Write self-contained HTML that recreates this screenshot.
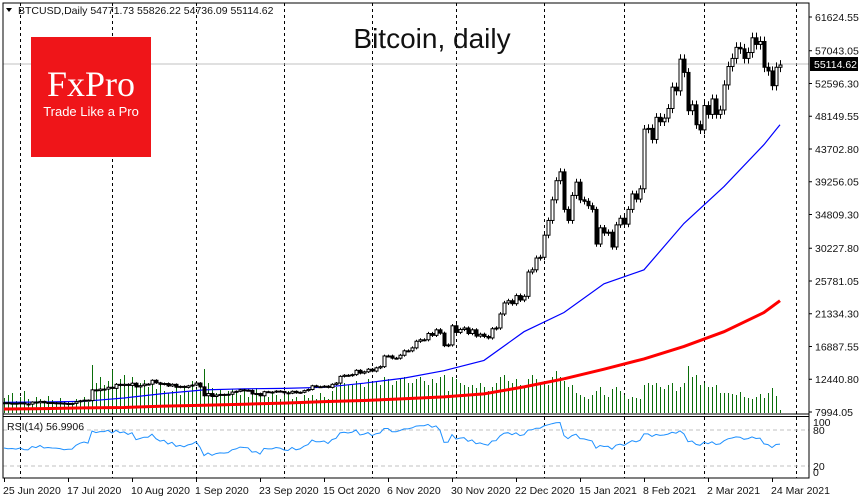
<!DOCTYPE html>
<html><head><meta charset="utf-8"><style>
html,body{margin:0;padding:0;background:#fff;}
svg{display:block;font-family:"Liberation Sans",sans-serif;}
</style></head><body>
<svg id="chart" width="860" height="500" viewBox="0 0 860 500">
<rect x="0" y="0" width="860" height="500" fill="#fff"/>
<g id="grid"></g>
<g id="vols"></g>
<line x1="3" y1="64" x2="809" y2="64" stroke="#c0c0c0" stroke-width="1"/>
<g id="mas"></g>
<g id="candles"></g>
<g id="rsi"></g>
<g id="axes"></g>
<rect x="31" y="37" width="120" height="120" fill="#ef1519"/>
<text x="91" y="96" text-anchor="middle" fill="#fff" font-family="Liberation Serif,serif" font-size="36">FxPro</text>
<text x="91" y="116" text-anchor="middle" fill="#fff" font-size="13">Trade Like a Pro</text>
<text x="432" y="48" text-anchor="middle" fill="#111" font-size="28">Bitcoin, daily</text>
<path d="M6,8 L12,8 L9,12 Z" fill="#000"/>
<text x="18" y="14" fill="#111" font-size="10.5">BTCUSD,Daily  54771.73 55826.22 54736.09 55114.62</text>
</svg>
<script>
const closes=[9.25,9.16,
9.19,9.14,9.23,9.09,9.06, 9.34,9.25,9.43,9.24,9.28, 9.24,9.23,9.20,9.13,9.15, 9.16,9.38,9.52,9.60,9.55,
11.0,10.9,11.1,11.1,11.35, 11.2,11.75,11.6,11.75,11.6, 11.9,11.4,11.57,11.78,11.77, 12.3,11.95,11.75,11.86,11.53,
11.75,11.35,11.47,11.33,11.54, 11.65,11.92,11.40,10.2,10.5, 10.1,10.3,10.38,10.35,10.4, 10.7,10.8,11.0,10.95,10.92,
10.45,10.5,10.2,10.75,10.7, 10.7,10.83,10.78,10.6,10.55, 10.8,10.6,10.67,10.9,11.05, 11.55,11.42,11.43,11.5,11.33,
11.75,11.92,12.83,12.98,12.93, 13.07,13.65,13.27,13.45,13.8, 13.55,13.99,14.15,15.6,15.6, 15.3,15.3,15.7,16.3,16.3,
16.7,17.6,17.8,17.8,18.65, 18.4,19.15,18.7,17.0,17.1, 19.7,18.8,19.2,19.4,18.65, 19.15,18.3,18.55,18.25,18.05,
19.3,19.4,21.3,22.8,23.1, 22.7,23.8,23.2,23.7, 27.0,27.3,28.9,29.0,
32.0,34.0,36.8,39.4,40.6, 35.5,34.0,37.4,39.2,36.8, 36.6,36.0,35.5,30.8,33.0, 32.3,32.4,30.4,33.4,34.3,
33.5,35.5,37.6,36.9,38.3, 46.4,46.5,45.0,48.0,47.4, 47.9,49.2,52.1,51.6,55.9, 54.1,48.9,49.7,47.0,46.3,
49.6,48.4,50.5,48.4,49.0, 52.4,54.9,56.0,57.5,57.3, 56.0,56.8,58.8,57.9,58.3, 54.8,54.3,52.3,54.8,55.1];
const volumes=[15,18,
20,12,16,22,14, 10,16,14,12,17, 13,9,15,12,11, 10,14,12,16,11,
48,30,36,28,32, 43,30,34,38,29, 36,28,30,33,26, 30,24,28,22,20,
22,25,18,26,21, 32,24,28,44,30, 25,20,24,18,22, 24,20,18,22,16,
22,25,20,18,16, 20,18,14,18,22, 14,16,12,18,15, 18,14,20,16,14,
22,26,34,30,28, 28,32,30,26,34, 30,32,28,36,34, 28,32,34,36,30,
30,34,36,32,28, 34,30,36,38,22, 36,34,30,28,26, 28,25,30,26,22,
26,30,36,38,32, 30,34,28,26, 34,38,34,30,
32,28,36,42,36, 32,26,28,20,18, 16,14,18,22,26, 18,16,24,26,22,
18,14,16,15,14, 28,30,28,30,26, 24,28,30,22,26, 30,47,36,38,28,
30,26,26,28,20, 20,20,19,18,21, 16,15,14,16,19, 15,20,25,17,3];
const maBlue=[9.3,9.35,9.45,9.9,10.5,11.0,11.15,11.2,11.35,11.9,12.6,13.6,15.0,18.9,21.5,25.4,27.3,33.6,38.6,44.3];
const maBlueLast=47.0;
const maRed=[8.4,8.45,8.55,8.6,8.8,8.9,9.05,9.2,9.4,9.55,9.8,10.05,10.45,11.4,12.5,13.8,15.2,16.9,18.9,21.5];
const maRedLast=23.1;
const priceTicks=["61624.55","57043.05","52596.30","48149.55","43702.80","39256.05","34809.30","30227.80","25781.05","21334.30","16887.55","12440.80","7994.05"];
const dateLabels=["25 Jun 2020","17 Jul 2020","10 Aug 2020","1 Sep 2020","23 Sep 2020","15 Oct 2020","6 Nov 2020","30 Nov 2020","22 Dec 2020","15 Jan 2021","8 Feb 2021","2 Mar 2021","24 Mar 2021"];
const monthStarts=[4,27,48,70,92,113,135,155,175,198];
const rsiTicks=["100","80","20","0"];

const NS="http://www.w3.org/2000/svg";
function mk(tag,attrs,parent){const e=document.createElementNS(NS,tag);for(const k in attrs)e.setAttribute(k,attrs[k]);parent.appendChild(e);return e;}
const xOf=i=>4+i*4;
const yOf=p=>412-(p*1000-7994.05)*0.0073653;
const rsiY=v=>478-v*0.6;

const grid=document.getElementById('grid');
monthStarts.forEach(i=>{
  const l=mk('line',{x1:xOf(i)+0.5,y1:3,x2:xOf(i)+0.5,y2:478,stroke:'#000','stroke-dasharray':'3,3','stroke-width':1},grid);
  
  
});

const vols=document.getElementById('vols');
volumes.forEach((v,i)=>{
  const l=mk('line',{x1:xOf(i)+0.5,y1:413,x2:xOf(i)+0.5,y2:413-v,stroke:'#0a6e0a','stroke-width':1},vols);
  
  
});

const mas=document.getElementById('mas');
function maPts(arr,last){const pts=arr.map((v,k)=>xOf(k*10)+','+yOf(v).toFixed(1));pts.push(xOf(closes.length-1)+','+yOf(last).toFixed(1));return pts.join(' ');}
const red=mk('polyline',{points:maPts(maRed,maRedLast),fill:'none',stroke:'#ff0000','stroke-width':3},mas);


const blue=mk('polyline',{points:maPts(maBlue,maBlueLast),fill:'none',stroke:'#0000ff','stroke-width':1.2},mas);



const cg=document.getElementById('candles');
closes.forEach((c,i)=>{
  const o=i===0?c:closes[i-1];
  const top=Math.max(o,c),bot=Math.min(o,c);
  const hi=top+0.012*c,lo=bot-0.012*c;
  const x=xOf(i)+0.5;
  const w=mk('line',{x1:x,y1:yOf(hi),x2:x,y2:yOf(lo),stroke:'#000','stroke-width':1},cg);
  
  
  const yt=yOf(top),yb=yOf(bot);
  const b=mk('rect',{x:x-1.5,y:yt,width:3,height:Math.max(1,yb-yt),fill:c>=o?'#fff':'#000',stroke:'#000','stroke-width':1},cg);
  
  
});

// RSI(14)
const rg=document.getElementById('rsi');
let ag=0.12,al=0.12;const rsi=[50];
for(let i=1;i<closes.length;i++){const d=closes[i]-closes[i-1];ag=(ag*13+Math.max(d,0))/14;al=(al*13+Math.max(-d,0))/14;rsi.push(100-100/(1+ag/al));}
[80,20].forEach(v=>{const l=mk('line',{x1:3,y1:rsiY(v),x2:809,y2:rsiY(v),stroke:'#c0c0c0','stroke-dasharray':'4,3'},rg);
  
  });
const rl=mk('polyline',{points:rsi.map((v,i)=>xOf(i)+','+rsiY(v).toFixed(1)).join(' '),fill:'none',stroke:'#1e90ff','stroke-width':1},rg);


const rt=mk('text',{x:7,y:430,'font-size':10.5,fill:'#111'},rg);
rt.textContent='RSI(14) 56.9906';



// axes
const ax=document.getElementById('axes');
[['M3,3 L809,3 L809,478 L3,478 Z'],['M3,414 L809,414'],['M3,416.5 L809,416.5']].forEach(d=>{
  const p=mk('path',{d:d[0],fill:'none',stroke:'#000','stroke-width':1},ax);
  
  
});
priceTicks.forEach(t=>{
  const y=yOf(parseFloat(t)/1000);
  mk('line',{x1:809,y1:y,x2:812,y2:y,stroke:'#000'},ax);
  const tx=mk('text',{x:815,y:y+4,'font-size':10.5,fill:'#111'},ax);
  tx.textContent=t;
  
  
});
const pb=mk('rect',{x:810,y:57,width:48,height:14,fill:'#000'},ax);


const pt=mk('text',{x:814,y:68,'font-size':10.5,fill:'#fff'},ax);
pt.textContent='55114.62';


const rsiVals=[100,80,20,0];
rsiTicks.forEach((t,k)=>{
  const tx=mk('text',{x:813,y:rsiY(rsiVals[k])+(k===0?8:k===3?-2:4),'font-size':10.5,fill:'#111'},ax);
  tx.textContent=t;
  
  
});
dateLabels.forEach((t,k)=>{
  const x=xOf(k*16);
  mk('line',{x1:x+0.5,y1:478,x2:x+0.5,y2:482,stroke:'#000'},ax);
  const tx=mk('text',{x:Math.max(2,x-1),y:494,'font-size':10.5,fill:'#111'},ax);
  tx.textContent=t;
  
  
});
</script>
</body></html>
